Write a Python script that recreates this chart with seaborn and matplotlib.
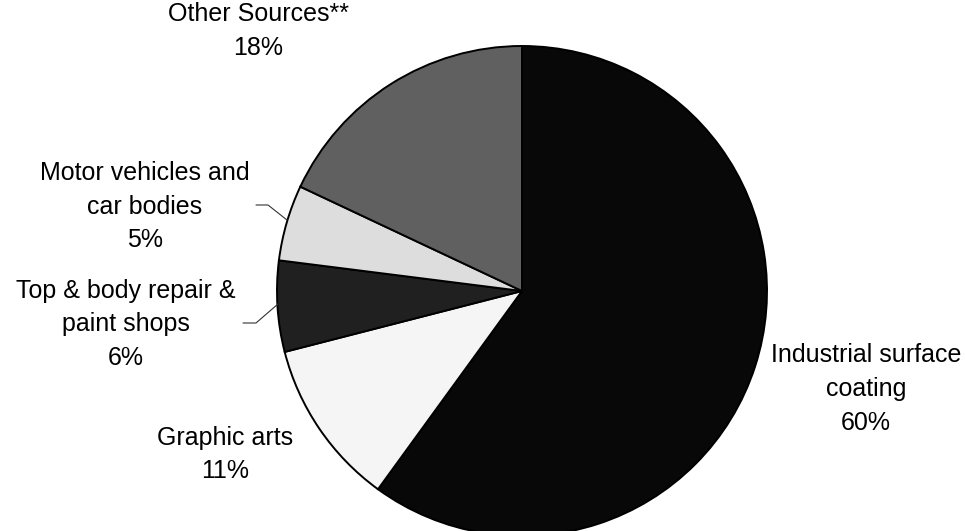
import matplotlib
matplotlib.use("Agg")
import matplotlib.pyplot as plt
import seaborn as sns

# Data
categories = ["Industrial surface\ncoating", "Graphic arts", "Top & body repair &\npaint shops",
              "Motor vehicles and\ncar bodies", "Other Sources**"]
shares = [60, 11, 6, 5, 18]
colors = ["#080808", "#f5f5f5", "#202020", "#dddddd", "#606060"]

sns.set_theme(style="white")
plt.rcParams['font.family'] = ['Liberation Sans', 'DejaVu Sans']

W, H = 965, 531
fig = plt.figure(figsize=(W / 100, H / 100), dpi=100)
ax = fig.add_axes([0, 0, 1, 1])

cx, cy, r = 522, H - 291, 245
wedges, _ = ax.pie(shares, colors=colors, startangle=90, counterclock=False,
                   center=(cx, cy), radius=r, frame=True,
                   wedgeprops=dict(edgecolor="black", linewidth=1.4))
ax.set_xlim(0, W)
ax.set_ylim(0, H)
ax.set_aspect("equal")
ax.axis("off")

# Label placement (pixel coordinates of the text centre)
label_pos = [(866, 389), (225, 454.5), (126, 324.5), (145, 206.5), (258, 31)]
for cat, val, (x, y) in zip(categories, shares, label_pos):
    ax.text(x, H - y, f"{cat}\n{val}%", ha="center", va="center",
            fontsize=18, linespacing=1.5, color="black")

# leader lines
ax.plot([256, 268, 287], [H - 205, H - 205, H - 220], color="#333333", lw=0.8)
ax.plot([243, 256, 278], [H - 323, H - 323, H - 304], color="#333333", lw=0.8)

fig.savefig("out.png", dpi=100)
